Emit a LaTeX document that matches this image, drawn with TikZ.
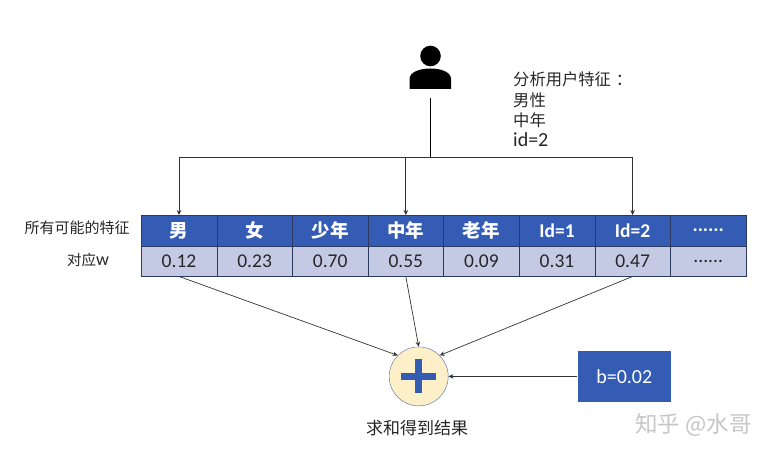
\documentclass[tikz,border=0pt]{standalone}
\usepackage{fontspec}
\setmainfont{Carlito}
\newfontfamily\cjk{Noto Sans CJK SC}
\usetikzlibrary{arrows.meta}
\definecolor{cellblue}{HTML}{355CB5}
\definecolor{celllight}{HTML}{C5CAE4}
\definecolor{cellline}{HTML}{2B3A5E}
\definecolor{sumfill}{HTML}{FDEFC8}
\definecolor{markgray}{HTML}{C6C6C6}
\newcommand{\moredots}{......}
\newcommand{\bigcjk}[1]{{\fontsize{18.5}{20}\selectfont\cjk #1}}
\tikzset{
  headcell/.style={draw=cellline,fill=cellblue,text=white,font=\fontsize{19.5}{20}\selectfont\bfseries,minimum width=75.6pt,minimum height=30.5pt,inner sep=0pt},
  valcell/.style={draw=cellline,fill=celllight,text=black!85,font=\fontsize{19.5}{20}\selectfont,minimum width=75.6pt,minimum height=30.5pt,inner sep=0pt},
  plainlabel/.style={text=black!85,inner sep=0pt},
  link/.style={black!80,line width=.7pt,arrows={-{Stealth[length=5pt,width=4.5pt]}}}
}
\begin{document}
\begin{tikzpicture}[x=1pt,y=-1pt]
\useasboundingbox (0,0) rectangle (772,454);
% table
\foreach \i/\pos/\head/\val in {1/179/\bigcjk{男}/0.12,2/254.6/\bigcjk{女}/0.23,3/330.2/\bigcjk{少年}/0.70,4/405.8/\bigcjk{中年}/0.55,5/481.4/\bigcjk{老年}/0.09,6/557/Id=1/0.31,7/632.6/Id=2/0.47,8/708.2/\moredots/\moredots}{
  \node[headcell] (head\i) at (\pos,230.5) {\head};
  \node[valcell] (val\i) at (\pos,261) {\val};
}
\node[plainlabel,font=\fontsize{15}{16}\selectfont\cjk] (allname) at (77,228) {所有可能的特征};
\node[plainlabel,font=\fontsize{18}{18}\selectfont] (wname) at (88,260) {{\fontsize{14.5}{16}\selectfont\cjk 对应}w};
% user
\fill (430.5,56) circle (10.3);
\fill (409.5,89) -- (409.5,79) .. controls (409.5,72) and (420,68.5) .. (430.5,68.5) .. controls (441,68.5) and (451,72) .. (451,79) -- (451,89) -- cycle;
\coordinate (user) at (430.5,98);
\coordinate (branch) at (430.5,157);
\node[plainlabel,anchor=north west,align=left,font=\fontsize{20}{20.3}\selectfont] (feature) at (513,72) {{\fontsize{16.3}{20.3}\selectfont\cjk 分析用户特征\hspace{5pt}：}\\{\fontsize{16.3}{20.3}\selectfont\cjk 男性}\\{\fontsize{16.3}{20.3}\selectfont\cjk 中年}\\id=2};
\draw[black,line width=1.3pt] (user) -- (branch);
\draw[link] (branch) -| (head1.north);
\draw[link] (branch) -| (head4.north);
\draw[link] (branch) -| (head7.north);
% sum
\node[circle,draw=cellblue!70!gray,fill=sumfill,minimum size=59pt,inner sep=0pt] (plus) at (418.7,376.4) {};
\draw[cellblue,line width=7pt] (401,376.4) -- (436,376.4);
\draw[cellblue,line width=7pt] (418.7,359) -- (418.7,393.5);
\node[fill=cellblue,text=white,minimum width=93.5pt,minimum height=50.7pt,inner sep=0pt,font=\fontsize{20}{22}\selectfont] (bias) at (624.3,376.4) {b=0.02};
\draw[link] (val1.south) -- (plus.135);
\draw[link] (val4.south) -- (plus.north);
\draw[link] (val7.south) -- (plus.45);
\draw[link] (bias) -- (plus);
\node[plainlabel,font=\fontsize{17}{18}\selectfont\cjk] (result) at (417,428) {求和得到结果};
\node[text=markgray,inner sep=0pt,font=\fontsize{22.5}{24}\selectfont\cjk] (mark) at (693.5,425) {知乎 @水哥};
\end{tikzpicture}
\end{document}
